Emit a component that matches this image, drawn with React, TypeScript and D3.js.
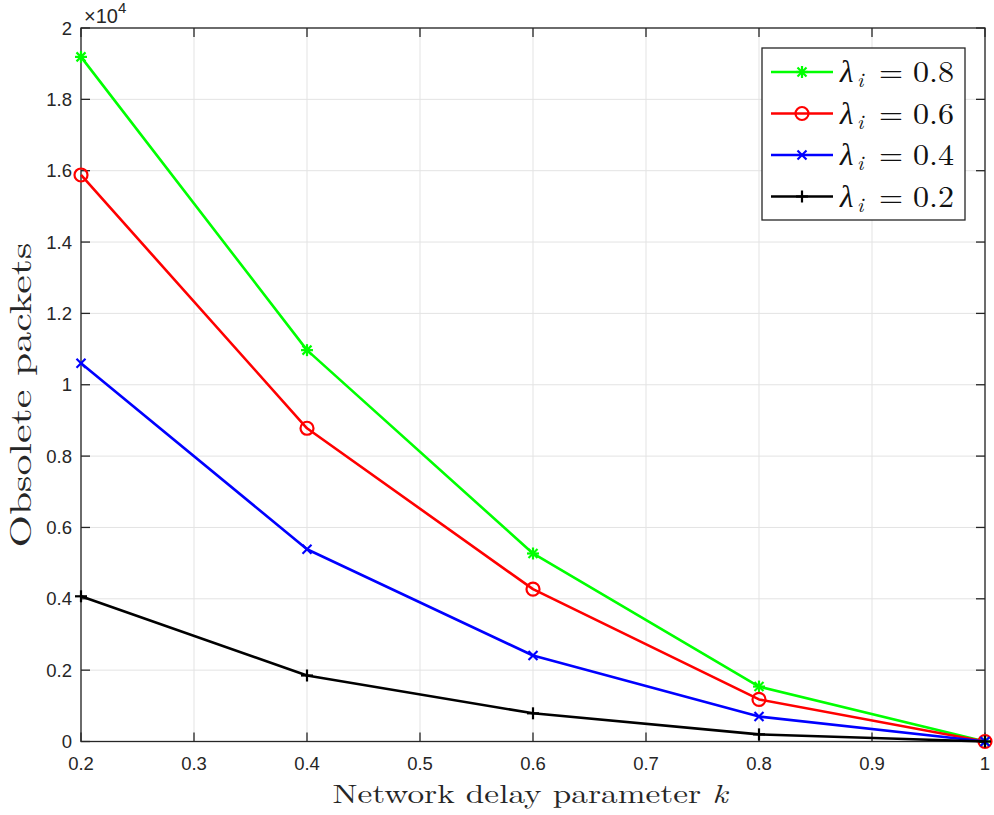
import { useEffect, useRef } from "react";
import * as d3 from "d3";

const kValues = [0.2, 0.4, 0.6, 0.8, 1.0];
const lambda08 = [19190, 10970, 5270, 1540, 0];
const lambda06 = [15880, 8780, 4270, 1180, 0];
const lambda04 = [10600, 5390, 2410, 700, 0];
const lambda02 = [4070, 1850, 790, 200, 0];

const seriesLabels = ["0.8", "0.6", "0.4", "0.2"];
const seriesColors = ["#00ff00", "#ff0000", "#0000ff", "#000000"];
const seriesMarkers = ["asterisk", "circle", "cross", "plus"];

const xTicks = [0.2, 0.3, 0.4, 0.5, 0.6, 0.7, 0.8, 0.9, 1];
const yTicks = [0, 2000, 4000, 6000, 8000, 10000, 12000, 14000, 16000, 18000, 20000];

export default function App() {
  const ref = useRef<SVGSVGElement | null>(null);

  useEffect(() => {
    const width = 994;
    const height = 815;
    const margin = { top: 28, right: 9, bottom: 74, left: 81 };
    const axisColor = "#262626";
    const sans = "'Liberation Sans', Arial, Helvetica, sans-serif";
    const serif = "'Latin Modern Roman', 'Liberation Serif', 'Times New Roman', serif";

    const svg = d3.select(ref.current);
    svg.selectAll("*").remove();

    const x = d3
      .scaleLinear()
      .domain([0.2, 1])
      .range([margin.left, width - margin.right]);
    const y = d3
      .scaleLinear()
      .domain([0, 20000])
      .range([height - margin.bottom + 0.5, margin.top]);

    svg.append("rect").attr("width", width).attr("height", height).attr("fill", "white");

    // grid
    const grid = svg.append("g").attr("stroke", "#e3e3e3").attr("stroke-width", 1);
    xTicks.forEach((t) => {
      grid.append("line").attr("x1", x(t)).attr("x2", x(t)).attr("y1", y(0)).attr("y2", y(20000));
    });
    yTicks.forEach((t) => {
      grid.append("line").attr("x1", x(0.2)).attr("x2", x(1)).attr("y1", y(t)).attr("y2", y(t));
    });

    // axes box with inward ticks
    const tickLen = 9;
    const box = svg.append("g").attr("stroke", axisColor).attr("stroke-width", 1.3).attr("fill", "none");
    box
      .append("rect")
      .attr("x", x(0.2))
      .attr("y", y(20000))
      .attr("width", x(1) - x(0.2))
      .attr("height", y(0) - y(20000));
    xTicks.forEach((t) => {
      box.append("line").attr("x1", x(t)).attr("x2", x(t)).attr("y1", y(0)).attr("y2", y(0) - tickLen);
      box.append("line").attr("x1", x(t)).attr("x2", x(t)).attr("y1", y(20000)).attr("y2", y(20000) + tickLen);
    });
    yTicks.forEach((t) => {
      box.append("line").attr("x1", x(0.2)).attr("x2", x(0.2) + tickLen).attr("y1", y(t)).attr("y2", y(t));
      box.append("line").attr("x1", x(1)).attr("x2", x(1) - tickLen).attr("y1", y(t)).attr("y2", y(t));
    });

    // tick labels
    svg
      .append("g")
      .selectAll("text")
      .data(xTicks)
      .join("text")
      .attr("x", (d) => x(d))
      .attr("y", y(0) + 28)
      .attr("text-anchor", "middle")
      .attr("font-family", sans)
      .attr("font-size", 18.5)
      .attr("fill", axisColor)
      .text((d) => d3.format("~g")(d));
    svg
      .append("g")
      .selectAll("text")
      .data(yTicks)
      .join("text")
      .attr("x", x(0.2) - 9)
      .attr("y", (d) => y(d) + 6.5)
      .attr("text-anchor", "end")
      .attr("font-family", sans)
      .attr("font-size", 18.5)
      .attr("fill", axisColor)
      .text((d) => d3.format("~g")(d / 10000));

    // exponent
    const expo = svg
      .append("text")
      .attr("x", x(0.2) + 3)
      .attr("y", y(20000) - 5)
      .attr("font-family", sans)
      .attr("font-size", 20)
      .attr("fill", axisColor);
    expo.append("tspan").text("\u00d710");
    expo.append("tspan").attr("dy", -10).attr("font-size", 15).text("4");

    // axis titles
    const xt = svg
      .append("text")
      .attr("x", 530)
      .attr("y", 803)
      .attr("text-anchor", "middle")
      .attr("font-family", serif)
      .attr("font-size", 26.5)
      .attr("textLength", 395)
      .attr("lengthAdjust", "spacingAndGlyphs")
      .attr("fill", axisColor);
    xt.append("tspan").text("Network delay parameter ");
    xt.append("tspan").attr("font-style", "italic").text("k");

    svg
      .append("text")
      .attr("transform", `translate(31,395) rotate(-90)`)
      .attr("text-anchor", "middle")
      .attr("font-family", serif)
      .attr("font-size", 30)
      .attr("textLength", 305)
      .attr("lengthAdjust", "spacingAndGlyphs")
      .attr("fill", axisColor)
      .text("Obsolete packets");

    const drawMarker = (g: any, kind: string, cx: number, cy: number, color: string) => {
      const m = g.append("g").attr("transform", `translate(${cx},${cy})`).attr("stroke", color).attr("stroke-width", 2.2).attr("fill", "none");
      if (kind === "circle") {
        m.append("circle").attr("r", 6.5);
      } else if (kind === "plus") {
        m.append("line").attr("x1", -6).attr("x2", 6);
        m.append("line").attr("y1", -6).attr("y2", 6);
      } else if (kind === "cross") {
        m.append("line").attr("x1", -4.5).attr("x2", 4.5).attr("y1", -4.5).attr("y2", 4.5);
        m.append("line").attr("x1", -4.5).attr("x2", 4.5).attr("y1", 4.5).attr("y2", -4.5);
      } else {
        m.append("line").attr("x1", -6).attr("x2", 6);
        m.append("line").attr("y1", -6).attr("y2", 6);
        m.append("line").attr("x1", -4.5).attr("x2", 4.5).attr("y1", -4.5).attr("y2", 4.5);
        m.append("line").attr("x1", -4.5).attr("x2", 4.5).attr("y1", 4.5).attr("y2", -4.5);
      }
    };

    const allSeries = [lambda08, lambda06, lambda04, lambda02];
    const line = d3
      .line<number>()
      .x((_, i) => x(kValues[i]))
      .y((d) => y(d));

    allSeries.forEach((vals, si) => {
      const g = svg.append("g");
      g.append("path")
        .datum(vals)
        .attr("fill", "none")
        .attr("stroke", seriesColors[si])
        .attr("stroke-width", 2.6)
        .attr("stroke-linejoin", "round")
        .attr("d", line);
      vals.forEach((v, i) => drawMarker(g, seriesMarkers[si], x(kValues[i]), y(v), seriesColors[si]));
    });

    // legend
    const lg = svg.append("g");
    lg.append("rect")
      .attr("x", 762)
      .attr("y", 48)
      .attr("width", 203)
      .attr("height", 172)
      .attr("fill", "white")
      .attr("stroke", axisColor)
      .attr("stroke-width", 1.3);
    seriesLabels.forEach((lab, i) => {
      const ly = 72 + i * 41.5;
      lg.append("line")
        .attr("x1", 771)
        .attr("x2", 833)
        .attr("y1", ly)
        .attr("y2", ly)
        .attr("stroke", seriesColors[i])
        .attr("stroke-width", 2.6);
      drawMarker(lg, seriesMarkers[i], 802, ly, seriesColors[i]);
      lg.append("text")
        .attr("x", 840)
        .attr("y", ly + 10)
        .attr("font-family", serif)
        .attr("font-style", "italic")
        .attr("font-size", 31)
        .attr("fill", "#111")
        .text("\u03bb");
      lg.append("text")
        .attr("x", 857)
        .attr("y", ly + 15)
        .attr("font-family", serif)
        .attr("font-style", "italic")
        .attr("font-size", 21)
        .attr("fill", "#111")
        .text("i");
      lg.append("text")
        .attr("x", 879)
        .attr("y", ly + 10)
        .attr("font-family", serif)
        .attr("font-size", 30)
        .attr("textLength", 24)
        .attr("lengthAdjust", "spacingAndGlyphs")
        .attr("fill", "#111")
        .text("=");
      lg.append("text")
        .attr("x", 913)
        .attr("y", ly + 10)
        .attr("font-family", serif)
        .attr("font-size", 29)
        .attr("textLength", 41)
        .attr("lengthAdjust", "spacingAndGlyphs")
        .attr("fill", "#111")
        .text(lab);
    });
  }, []);

  return (
    <svg
      ref={ref}
      width={994}
      height={815}
      style={{ position: "absolute", left: 0, top: 0 }}
    />
  );
}
